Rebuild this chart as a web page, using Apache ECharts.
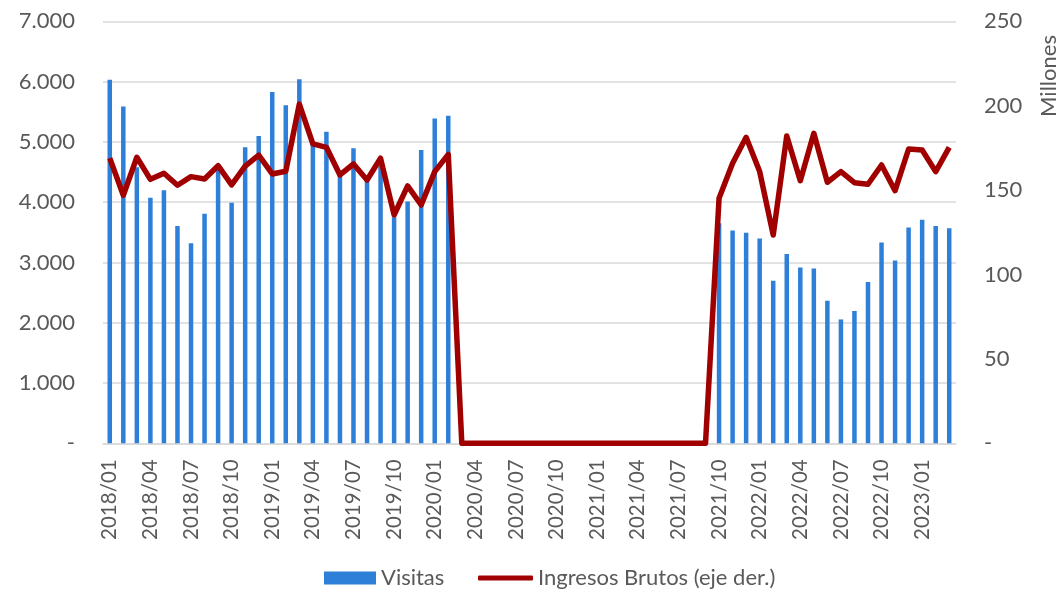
<!DOCTYPE html>
<html>
<head>
<meta charset="utf-8">
<script src="https://cdn.jsdelivr.net/npm/echarts@6/dist/echarts.min.js"></script>
<style>
html,body{margin:0;padding:0;background:#fff;}
#chart{width:1064px;height:593px;}
</style>
</head>
<body>
<div id="chart"></div>
<script>
// Categories: monthly 2018/01 .. 2023/03
const months = [
  '2018/01','2018/02','2018/03','2018/04','2018/05','2018/06','2018/07','2018/08','2018/09','2018/10','2018/11','2018/12',
  '2019/01','2019/02','2019/03','2019/04','2019/05','2019/06','2019/07','2019/08','2019/09','2019/10','2019/11','2019/12',
  '2020/01','2020/02','2020/03','2020/04','2020/05','2020/06','2020/07','2020/08','2020/09','2020/10','2020/11','2020/12',
  '2021/01','2021/02','2021/03','2021/04','2021/05','2021/06','2021/07','2021/08','2021/09','2021/10','2021/11','2021/12',
  '2022/01','2022/02','2022/03','2022/04','2022/05','2022/06','2022/07','2022/08','2022/09','2022/10','2022/11','2022/12',
  '2023/01','2023/02','2023/03'
];

// Visitas (left axis)
const visitas = [
  6030, 5590, 4580, 4075, 4200, 3605, 3320, 3810, 4540, 3990, 4910, 5100,
  5830, 5610, 6040, 5000, 5170, 4500, 4895, 4400, 4600, 3750, 4010, 4865,
  5390, 5435, 0, 0, 0, 0, 0, 0, 0, 0, 0, 0,
  0, 0, 0, 0, 0, 0, 0, 0, 0, 3650, 3530, 3495,
  3400, 2695, 3140, 2915, 2900, 2365, 2055, 2195, 2675, 3330, 3035, 3580,
  3710, 3605, 3570
];

// Ingresos Brutos, millones (right axis)
const ingresos = [
  169, 147, 169.5, 156.4, 160, 152.9, 158, 156.6, 164.5, 153.1, 164.3, 170.8,
  159.6, 161.2, 201, 177.4, 175.4, 159, 165.5, 156, 168.9, 135.3, 152.5, 141.2,
  161, 171.2, 0, 0, 0, 0, 0, 0, 0, 0, 0, 0,
  0, 0, 0, 0, 0, 0, 0, 0, 0, 145.2, 165.9, 181.3,
  161, 123.4, 182.1, 155.6, 183.7, 154.7, 161, 154.4, 153.5, 164.9, 149.7, 174.4,
  173.8, 161, 175.4
];

const leftTicks = { min: 0, max: 7000, interval: 1000 };
const rightTicks = { min: 0, max: 250, interval: 50 };
const names = { bar: 'Visitas', line: 'Ingresos Brutos (eje der.)', rightAxis: 'Millones' };

const FONT = 'Lato';
const TXT = '#595959';

function fmtThousands(v) {
  if (v === 0) return '-';
  return String(v).replace(/\B(?=(\d{3})+(?!\d))/g, '.');
}

const chart = echarts.init(document.getElementById('chart'), null, { renderer: 'canvas' });
chart.setOption({
  animation: false,
  backgroundColor: '#ffffff',
  grid: { left: 103, right: 108, top: 21.4, bottom: 149.7, containLabel: false },
  legend: [
    {
      data: [{ name: names.bar, icon: 'rect' }],
      left: 319, top: 562,
      itemWidth: 52, itemHeight: 13, itemGap: 5,
      textStyle: { fontFamily: FONT, fontSize: 22, color: TXT }
    },
    {
      data: [{ name: names.line, icon: 'roundRect' }],
      left: 473, top: 562,
      itemWidth: 55, itemHeight: 5,
      textStyle: { fontFamily: FONT, fontSize: 22, color: TXT }
    }
  ],
  xAxis: {
    type: 'category',
    data: months,
    boundaryGap: true,
    axisLine: { show: true, lineStyle: { color: '#d9d9d9', width: 1.5 } },
    axisTick: { show: false },
    axisLabel: {
      interval: 2, rotate: 90, margin: 16,
      fontFamily: FONT, fontSize: 20.5, color: TXT
    }
  },
  yAxis: [
    {
      type: 'value', min: leftTicks.min, max: leftTicks.max, interval: leftTicks.interval,
      axisLine: { show: false }, axisTick: { show: false },
      splitLine: { lineStyle: { color: '#d9d9d9', width: 1.5 } },
      axisLabel: { formatter: fmtThousands, margin: 28, fontFamily: FONT, fontSize: 22, color: TXT }
    },
    {
      type: 'value', min: rightTicks.min, max: rightTicks.max, interval: rightTicks.interval,
      position: 'right',
      axisLine: { show: false }, axisTick: { show: false },
      splitLine: { show: false },
      axisLabel: { formatter: v => v === 0 ? '-' : String(v), margin: 28, fontFamily: FONT, fontSize: 22, color: TXT }
    }
  ],
  graphic: [
    {
      type: 'text', x: 1049, y: 76, rotation: Math.PI / 2,
      style: { text: names.rightAxis, fontFamily: FONT, fontSize: 22, fill: TXT, align: 'center', verticalAlign: 'middle' }
    }
  ],
  series: [
    {
      name: names.bar, type: 'bar', yAxisIndex: 0,
      data: visitas, barWidth: 4.5,
      itemStyle: { color: '#2E7FD8' }
    },
    {
      name: names.line, type: 'line', yAxisIndex: 1,
      data: ingresos, symbol: 'none', showSymbol: false,
      lineStyle: { color: '#A00000', width: 5.5, join: 'round' },
      itemStyle: { color: '#A00000' }
    }
  ]
});
</script>
</body>
</html>
